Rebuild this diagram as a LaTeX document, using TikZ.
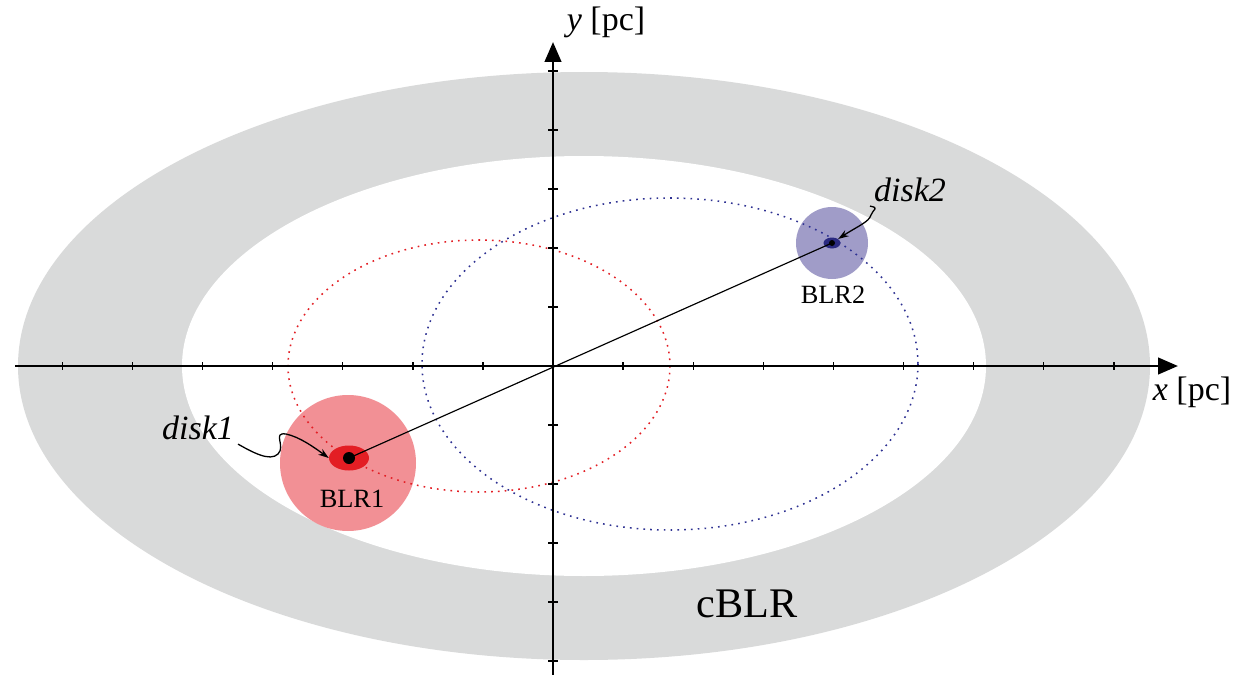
\documentclass[tikz,border=0pt]{standalone}
\usepackage{fontspec}
\setmainfont{Liberation Serif}
\usetikzlibrary{arrows.meta,positioning,calc,shapes.geometric}
\definecolor{RingGray}{HTML}{D9DADA}
\definecolor{BlrRed}{HTML}{F29095}
\definecolor{DiskRed}{HTML}{E31E24}
\definecolor{BlrBlue}{HTML}{A09CC8}
\definecolor{DiskBlue}{HTML}{2B2A80}
\definecolor{OrbitBlue}{HTML}{2E3192}

\begin{document}
\begin{tikzpicture}[x=0.03cm,y=-0.03cm,
  axis/.style={line width=2.5pt,-{Triangle[length=17pt,width=14pt]}},
  tick/.style={line width=1.2pt},
  orbit/.style={line width=1.3pt,dash pattern=on 1.4pt off 4.4pt},
  pointer/.style={line width=1.1pt,-{Stealth[length=9pt,width=6pt]}},
  lbl/.style={font=\fontsize{29}{33}\selectfont},
  blrlbl/.style={font=\fontsize{22.5}{26}\selectfont}
]
  \useasboundingbox (0,0) rectangle (1234,675);
  % circumbinary BLR ring
  \fill[RingGray] (584,366) ellipse [x radius=566,y radius=294];
  \fill[white] (584,366) ellipse [x radius=402,y radius=210];
  \node[font=\fontsize{36}{40}\selectfont] (cblr) at (747,604) {cBLR};

  % BLR clouds round the two black holes
  \fill[BlrRed] (348,463) circle [radius=68];
  \fill[BlrBlue] (832,243) circle [radius=36];

  % orbits
  \draw[orbit,DiskRed] (479,366) ellipse [x radius=191,y radius=126];
  \draw[orbit,OrbitBlue] (670,364) ellipse [x radius=248,y radius=166];

  % axes
  \coordinate (O) at (553,366);
  \draw[axis] (15,366) -- (1178,366);
  \draw[axis] (553,675) -- (553,42);
  \foreach \i in {-7,...,-1,1,2,...,8}
    \draw[tick] (553+70.1*\i,362) -- ++(0,8);
  \foreach \j in {-5,...,-1,1,2,...,5}
    \draw[tick] (548,366+59*\j) -- ++(10,0);
  \node[lbl] (ylbl) at (606,22) {\textit{y} [pc]};
  \node[lbl] (xlbl) at (1192,392) {\textit{x} [pc]};

  % disks
  \node[ellipse,fill=DiskRed,minimum width=40*0.03cm,minimum height=25*0.03cm,inner sep=0pt] (disk1) at (349,458) {};
  \node[blrlbl] (blr1) at (352,499) {BLR1};
  \node[ellipse,fill=DiskBlue,minimum width=17*0.03cm,minimum height=11*0.03cm,inner sep=0pt] (disk2) at (832,243) {};
  \node[blrlbl] (blr2) at (833,295) {BLR2};

  % binary separation line
  \draw[line width=1pt] (disk1.center) -- (disk2.center);
  \fill (disk1.center) circle [radius=6];
  \fill (disk2.center) circle [radius=3];

  % labels of the disks
  \node[font=\fontsize{29}{33}\selectfont\itshape] (lbl1) at (198,428) {disk1};
  \node[font=\fontsize{29}{33}\selectfont\itshape] (lbl2) at (910,190) {disk2};
  \draw[pointer] (lbl1.south east) .. controls (252,452) and (270,462) .. (278,454)
    .. controls (286,446) and (272,432) .. (286,434)
    .. controls (300,437) and (315,448) .. (disk1.west);
  \draw[pointer] (lbl2.south west) .. controls (880,208) and (873,209) .. (871,215)
    .. controls (869,222) and (858,226) .. (disk2.north east);
\end{tikzpicture}
\end{document}
